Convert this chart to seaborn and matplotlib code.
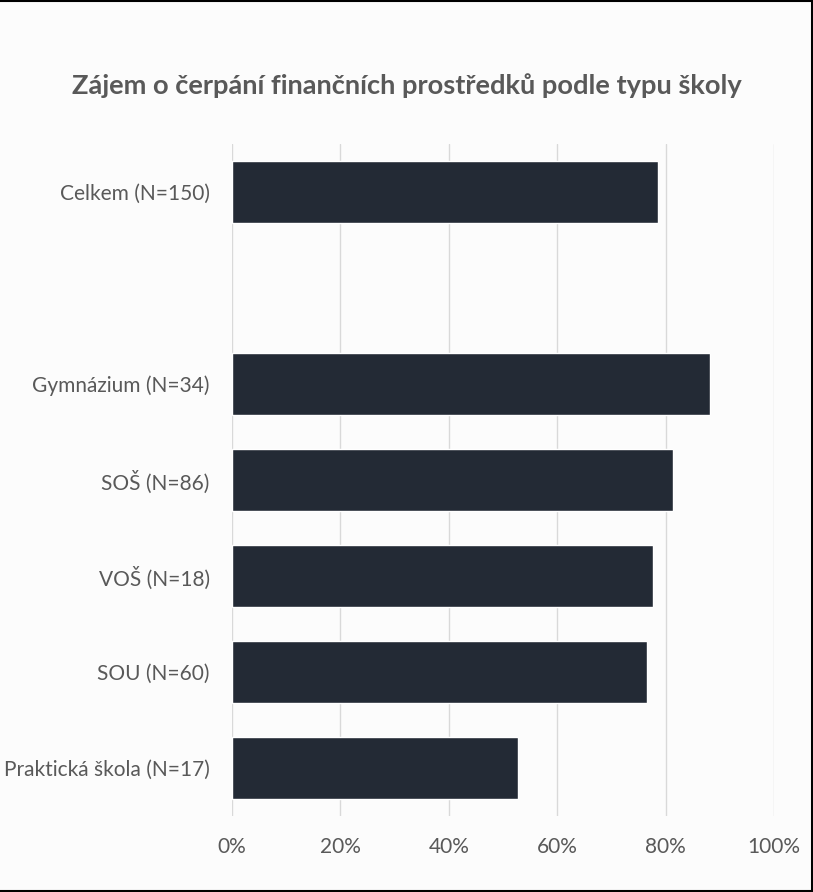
import matplotlib
matplotlib.use("Agg")
import matplotlib.pyplot as plt
import seaborn as sns
import pandas as pd
from matplotlib.lines import Line2D

categories = ["Celkem (N=150)", "Gymnázium (N=34)", "SOŠ (N=86)", "VOŠ (N=18)",
              "SOU (N=60)", "Praktická škola (N=17)"]
values = [78.6, 88.2, 81.4, 77.7, 76.6, 52.8]
order = ["Celkem (N=150)", " ", "Gymnázium (N=34)", "SOŠ (N=86)", "VOŠ (N=18)",
         "SOU (N=60)", "Praktická škola (N=17)"]
xticks = [0, 20, 40, 60, 80, 100]
title = "Zájem o čerpání finančních prostředků podle typu školy"

sns.set_theme(style="white")
plt.rcParams['font.family'] = ['Lato', 'DejaVu Sans']

bg = "#FCFCFC"
txt = "#595959"
df = pd.DataFrame({"cat": categories, "val": values})

fig = plt.figure(figsize=(8.13, 8.92), dpi=100, facecolor=bg)
W, H = 813, 892
ax = fig.add_axes([232 / W, 1 - 816 / H, (774 - 232) / W, (816 - 144) / H])
ax.set_facecolor(bg)

sns.barplot(data=df, x="val", y="cat", order=order, color="#232A35",
            width=0.64, saturation=1, ax=ax, zorder=3)

ax.set_xlim(0, 100)
ax.set_ylim(6.5, -0.5)
ax.set_xticks(xticks)
ax.set_xticklabels([f"{t}%" for t in xticks])
ax.grid(axis="x", color="#D9D9D9", linewidth=1, zorder=0)
ax.set_axisbelow(True)
for s in ax.spines.values():
    s.set_visible(False)
ax.tick_params(axis="both", length=0, labelsize=15, labelcolor=txt)
ax.tick_params(axis="y", pad=16)
ax.tick_params(axis="x", pad=15)
ax.set_xlabel("")
ax.set_ylabel("")

fig.text(0.5, 1 - 86 / H, title, ha="center", va="center", fontsize=19.6,
         fontweight="bold", color=txt)

# black border (top, right, bottom)
fig.add_artist(Line2D([0, 1], [1 - 1 / H, 1 - 1 / H], transform=fig.transFigure, color="black", lw=1.5))
fig.add_artist(Line2D([0, 1], [1 / H, 1 / H], transform=fig.transFigure, color="black", lw=1.5))
fig.add_artist(Line2D([1 - 1.5 / W, 1 - 1.5 / W], [0, 1], transform=fig.transFigure, color="black", lw=2.2))

fig.savefig("out.png", dpi=100, facecolor=bg)
